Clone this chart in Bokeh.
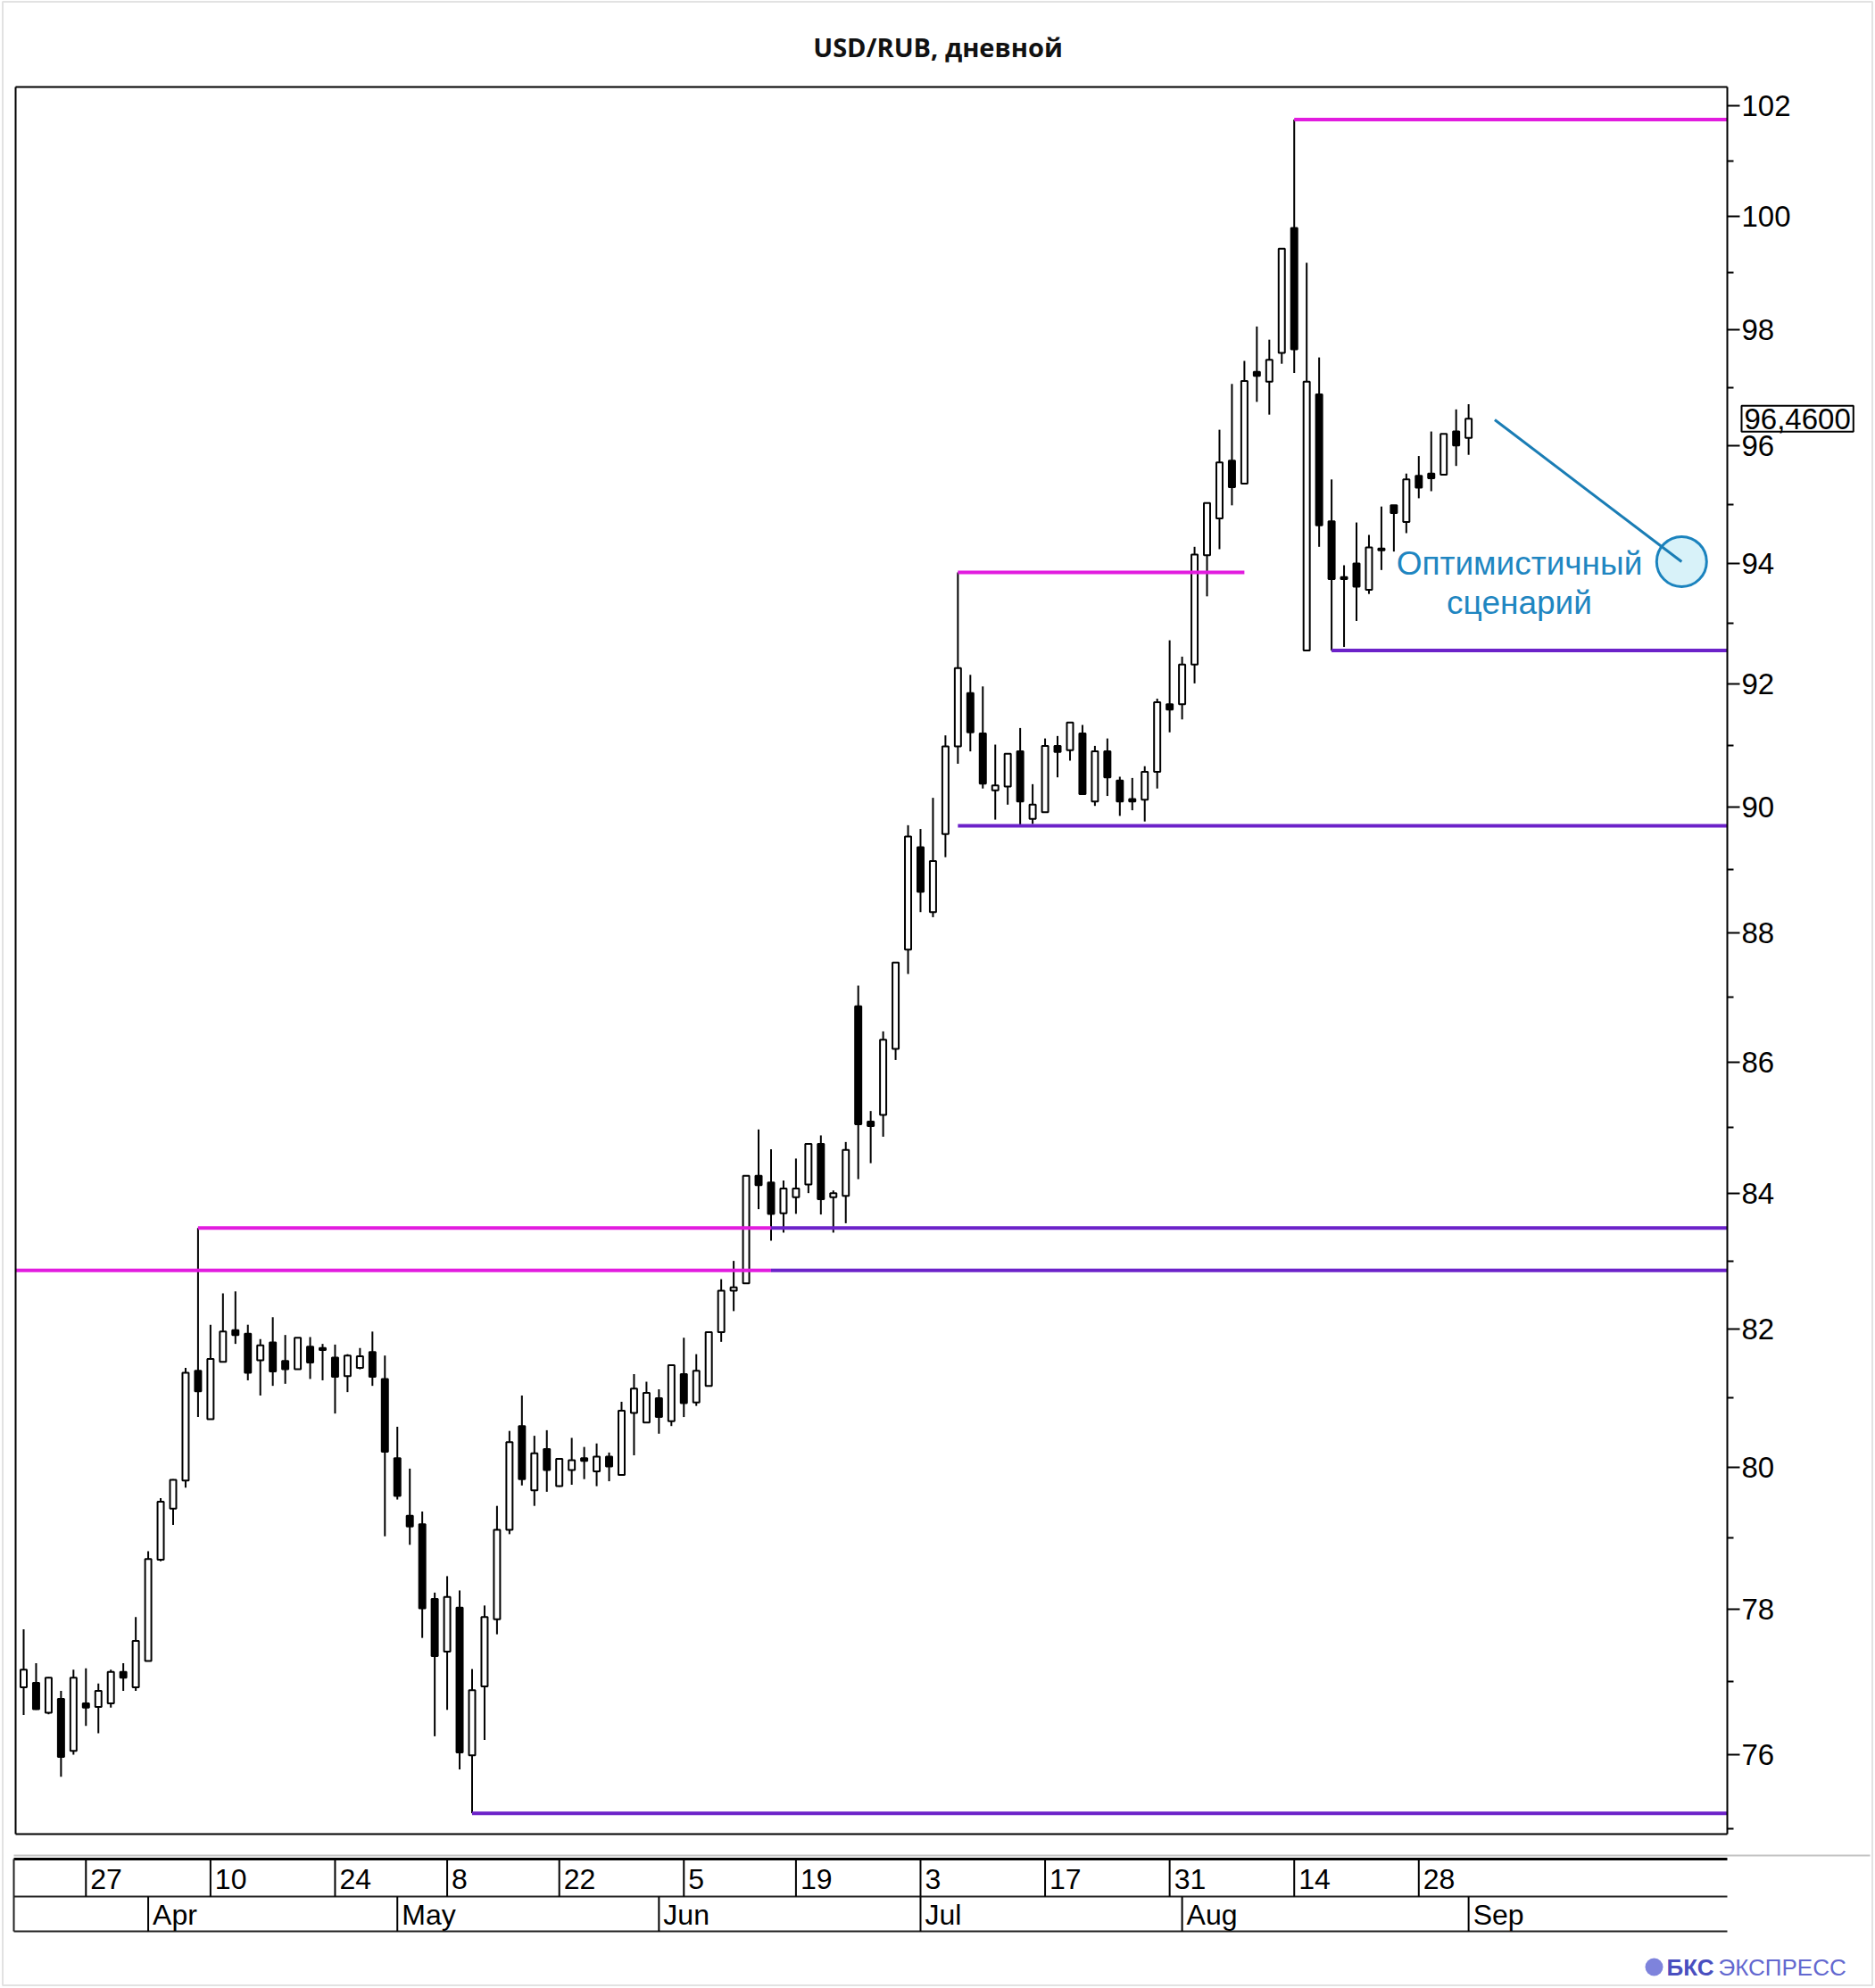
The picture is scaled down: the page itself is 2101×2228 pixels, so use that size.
import math
import pandas as pd
from bokeh.plotting import figure
from bokeh.models import (Range1d, ColumnDataSource, LinearAxis, FixedTicker,
                          BasicTickFormatter, Label)
from bokeh.core.properties import value
from bokeh.embed import file_html
from bokeh.resources import INLINE

# ---------------------------------------------------------------- data
TITLE = "USD/RUB, дневной"

HOLIDAYS = ["2023-05-01", "2023-05-09", "2023-06-12"]
trade_dates = [d.strftime("%Y-%m-%d") for d in pd.bdate_range("2023-03-20", "2023-09-01")
               if d.strftime("%Y-%m-%d") not in HOLIDAYS]

open_ = [
    76.92, 76.98, 76.57, 76.76, 76.05, 76.70, 76.65, 76.70, 77.13, 76.92,
    77.28, 78.69, 79.41, 79.81, 81.39, 80.69, 81.52, 81.98, 81.93, 81.54,
    81.80, 81.53, 81.41, 81.74, 81.72, 81.58, 81.31, 81.43, 81.66, 81.27,
    80.13, 79.31, 79.19, 78.14, 77.41, 78.02, 75.99, 76.93, 77.86, 79.11,
    80.59, 79.67, 80.26, 79.73, 79.96, 80.13, 79.94, 80.15, 79.89, 80.78,
    80.64, 80.99, 80.66, 81.34, 80.93, 81.17, 81.95, 82.56, 82.67, 84.27,
    84.17, 83.71, 83.95, 84.14, 84.75, 83.95, 83.97, 86.86, 85.09, 85.19,
    86.20, 87.74, 89.36, 88.33, 89.57, 90.98, 91.85, 91.19, 90.27, 90.33,
    90.90, 89.81, 89.92, 90.99, 90.92, 91.19, 90.09, 90.90, 90.43, 90.13,
    90.12, 90.57, 91.67, 91.67, 92.32, 94.14, 94.76, 95.74, 95.35, 97.27,
    97.10, 97.60, 99.80, 92.55, 96.88, 94.71, 93.77, 94.00, 93.56, 94.22,
    94.98, 94.70, 95.48, 95.52, 95.50, 96.24, 96.13]

high = [
    77.72, 77.25, 77.06, 76.87, 77.16, 77.18, 76.97, 77.16, 77.25, 77.89,
    78.81, 79.56, 79.83, 81.43, 83.49, 82.06, 82.52, 82.55, 82.06, 81.85,
    82.17, 81.91, 81.87, 81.88, 81.78, 81.77, 81.63, 81.72, 81.96, 81.61,
    80.58, 79.98, 79.37, 78.23, 78.46, 78.26, 77.17, 78.05, 79.45, 80.52,
    81.03, 80.45, 80.53, 80.13, 80.42, 80.29, 80.34, 80.21, 80.94, 81.34,
    81.23, 81.12, 81.47, 81.87, 81.63, 81.95, 82.73, 83.00, 84.27, 84.97,
    84.67, 84.20, 84.53, 84.75, 84.88, 84.05, 84.78, 87.18, 85.25, 86.47,
    87.54, 89.71, 89.65, 90.15, 91.16, 93.85, 92.15, 91.96, 91.01, 90.86,
    91.28, 90.37, 91.11, 91.15, 91.37, 91.33, 90.99, 91.11, 90.49, 90.47,
    90.66, 91.76, 92.72, 92.45, 94.28, 95.02, 96.27, 97.06, 97.46, 98.06,
    97.83, 99.43, 101.75, 99.18, 97.52, 95.42, 93.97, 94.69, 94.48, 94.96,
    94.98, 95.52, 95.82, 96.24, 96.20, 96.62, 96.71]

low = [
    76.54, 76.61, 76.55, 75.70, 76.00, 76.39, 76.29, 76.64, 76.87, 76.87,
    77.28, 78.67, 79.18, 79.71, 80.72, 80.69, 81.52, 81.78, 81.25, 81.03,
    81.17, 81.20, 81.41, 81.27, 81.25, 80.77, 81.08, 81.41, 81.17, 79.02,
    79.54, 78.90, 77.60, 76.25, 76.61, 75.80, 75.21, 76.20, 77.65, 79.05,
    79.74, 79.45, 79.65, 79.72, 79.75, 79.83, 79.73, 79.80, 79.89, 80.17,
    80.64, 80.48, 80.59, 80.72, 80.88, 81.17, 81.81, 82.26, 82.67, 83.77,
    83.30, 83.42, 83.70, 84.01, 83.69, 83.42, 83.56, 84.22, 84.46, 84.86,
    86.03, 87.36, 88.33, 88.25, 89.20, 90.70, 90.90, 90.30, 89.80, 90.04,
    89.70, 89.73, 89.92, 90.48, 90.75, 90.21, 90.02, 90.18, 89.86, 89.95,
    89.77, 90.30, 91.21, 91.42, 92.01, 93.45, 94.24, 94.98, 95.35, 96.75,
    96.53, 97.41, 97.25, 92.55, 94.28, 92.55, 92.61, 93.04, 93.49, 93.89,
    94.20, 94.51, 95.10, 95.22, 95.50, 95.65, 95.84]

close = [
    77.16, 76.62, 77.05, 75.97, 77.05, 76.64, 76.87, 77.13, 77.05, 77.56,
    78.70, 79.51, 79.82, 81.36, 81.09, 81.56, 81.96, 81.91, 81.36, 81.76,
    81.38, 81.41, 81.87, 81.51, 81.69, 81.30, 81.61, 81.60, 81.30, 80.22,
    79.59, 79.16, 78.01, 77.35, 78.17, 76.03, 76.88, 77.89, 79.11, 80.36,
    79.83, 80.20, 79.96, 80.12, 80.10, 80.09, 80.15, 80.01, 80.81, 81.13,
    81.07, 80.72, 81.47, 80.92, 81.39, 81.95, 82.56, 82.61, 84.27, 84.13,
    83.70, 84.08, 84.08, 84.75, 83.92, 84.01, 84.66, 85.05, 85.02, 86.34,
    87.54, 89.53, 88.65, 89.14, 90.98, 92.26, 91.21, 90.38, 90.35, 90.86,
    90.09, 90.04, 90.99, 90.89, 91.37, 90.21, 90.90, 90.48, 90.09, 90.09,
    90.57, 91.70, 91.58, 92.32, 94.15, 95.02, 95.71, 95.29, 97.11, 97.20,
    97.48, 99.43, 97.66, 97.10, 94.64, 93.74, 93.74, 93.61, 94.27, 94.25,
    94.85, 95.42, 95.28, 95.44, 96.20, 96.00, 96.46]

day_tick_dates = ["2023-03-27", "2023-04-10", "2023-04-24", "2023-05-08", "2023-05-22",
                  "2023-06-05", "2023-06-19", "2023-07-03", "2023-07-17", "2023-07-31",
                  "2023-08-14", "2023-08-28"]
day_tick_labels = ["27", "10", "24", "8", "22", "5", "19", "3", "17", "31", "14", "28"]
month_tick_dates = ["2023-04-03", "2023-05-02", "2023-06-01", "2023-07-03", "2023-08-01", "2023-09-01"]
month_tick_labels = ["Apr", "May", "Jun", "Jul", "Aug", "Sep"]

y_major_ticks = list(range(76, 103, 2))
y_minor_ticks = list(range(75, 102, 2))

# support / resistance levels (None = runs to the plot edge)
level_price = [101.75, 93.85, 83.49, 83.49, 82.86, 82.86, 89.70, 92.55, 75.21]
level_from = ["2023-08-14", "2023-07-06", "2023-04-07", "2023-06-15", None,
              "2023-06-15", "2023-07-06", "2023-08-17", "2023-05-11"]
level_to = [None, "2023-08-08", "2023-06-15", None, "2023-06-15", None, None, None, None]
level_kind = ["resistance", "resistance", "resistance", "support", "resistance",
              "support", "support", "support", "support"]

scenario_text = ["Оптимистичный", "сценарий"]
scenario_target = (133.1, 94.03)     # (trading-day position, price) of the circle
scenario_from = (118.1, 96.44)

logo_bold, logo_light = "БКС", "ЭКСПРЕСС"

# ---------------------------------------------------------------- layout helpers
W, H = 2100, 2226                 # canvas placed at the page's top-left corner
X0_PAGE, X_STEP = 26.0, 13.958    # candle 0 centre / px per trading day
K = (1966 - 118) / math.log(102 / 76)


def ix(px):
    return (px - X0_PAGE) / X_STEP


def vy(py):
    return 102 * math.exp(-(py - 118) / K)


XL, XR = ix(17), ix(1935)
YT, YB = vy(97), vy(2055)

MAGENTA = "#E21CDF"
PURPLE = "#6C22C9"
BLUE = "#1F86C1"
TXT = dict(text_font=value("Liberation Sans"))

p = figure(width=W, height=H, x_range=Range1d(ix(0), ix(W)),
           y_range=Range1d(vy(H), vy(0)), y_axis_type="log",
           x_axis_location=None, y_axis_location=None, toolbar_location=None,
           output_backend="svg", min_border=0,
           background_fill_color="white", border_fill_color="white",
           outline_line_color=None)
p.xgrid.visible = False
p.ygrid.visible = False

pos = {d: i for i, d in enumerate(trade_dates)}
xs = list(range(len(trade_dates)))

# ---------------------------------------------------------------- card border
p.quad(left=[ix(2.5)], right=[ix(2097.5)], top=[vy(1.5)], bottom=[vy(2224.5)],
       fill_color=None, line_color="#e2e2e2", line_width=2)

# ---------------------------------------------------------------- title
p.text(x=[ix(1050.5)], y=[vy(52)], text=[TITLE], text_align="center",
       text_baseline="middle", text_font=value("Open Sans"),
       text_font_style="bold", text_font_size="29px", text_color="#111111")

# ---------------------------------------------------------------- candles
src = ColumnDataSource(dict(
    x=xs, o=open_, h=high, l=low, c=close,
    top=[max(o, c) for o, c in zip(open_, close)],
    bot=[min(o, c) for o, c in zip(open_, close)],
    fill=["white" if c >= o else "black" for o, c in zip(open_, close)],
))
p.segment(x0="x", y0="l", x1="x", y1="h", source=src, line_color="black", line_width=2)
p.vbar(x="x", top="top", bottom="bot", width=0.5, source=src,
       fill_color="fill", line_color="black", line_width=2)

# ---------------------------------------------------------------- levels
lx0, lx1, ly, lc = [], [], [], []
for v, f, t, k in zip(level_price, level_from, level_to, level_kind):
    lx0.append(XL if f is None else pos[f])
    lx1.append(XR if t is None else pos[t])
    ly.append(v)
    lc.append(MAGENTA if k == "resistance" else PURPLE)
p.segment(x0=lx0, y0=ly, x1=lx1, y1=ly, line_color=lc, line_width=4, line_cap="butt")

# ---------------------------------------------------------------- frame border
p.segment(x0=[XL, XL, XL, XR], y0=[YB, YT, YB, YB], x1=[XL, XR, XR, XR], y1=[YT, YT, YB, YT],
          line_color="black", line_width=2)

# ---------------------------------------------------------------- price axis
yaxis = LinearAxis(ticker=FixedTicker(ticks=y_major_ticks, minor_ticks=y_minor_ticks),
                   formatter=BasicTickFormatter(), fixed_location=XR,
                   axis_line_color=None,
                   major_tick_in=0, major_tick_out=14, minor_tick_in=0, minor_tick_out=7,
                   major_tick_line_width=2, minor_tick_line_width=2,
                   major_tick_line_color="black", minor_tick_line_color="black",
                   major_label_standoff=2,
                   major_label_text_font="Liberation Sans",
                   major_label_text_font_size="33px",
                   major_label_text_color="black")
p.add_layout(yaxis, "right")

last_lbl = Label(x=XR, y=close[-1], x_offset=16, text=f"{close[-1]:.4f}".replace(".", ","),
                 text_align="left", text_baseline="middle",
                 text_font="Liberation Sans", text_font_size="33px", text_color="black",
                 border_line_color="black", border_line_width=2,
                 background_fill_color="white")
try:
    last_lbl.padding = 3
except Exception:
    pass
p.add_layout(last_lbl)

# ---------------------------------------------------------------- scenario annotation
p.scatter(x=[scenario_target[0]], y=[scenario_target[1]], size=56,
          fill_color="#d8f2f9", line_color="#1b83be", line_width=3)
p.line(x=[scenario_from[0], scenario_target[0]], y=[scenario_from[1], scenario_target[1]],
       line_color="#1a7db5", line_width=3)
p.text(x=[ix(1702)] * 2, y=[vy(631), vy(675)], text=scenario_text,
       text_align="center", text_baseline="middle",
       text_font_size="37px", text_color=BLUE, **TXT)

# ---------------------------------------------------------------- date scale
p.segment(x0=[ix(15)], y0=[vy(2079)], x1=[ix(2095)], y1=[vy(2079)],
          line_color="#c4c4c4", line_width=2)

BX = ix(15)
R_TOP, R_MID, R_BOT = vy(2083), vy(2125), vy(2164)
p.segment(x0=[BX], y0=[R_TOP], x1=[XR], y1=[R_TOP], line_color="black", line_width=3)
p.segment(x0=[BX, BX], y0=[R_MID, R_BOT], x1=[XR, XR], y1=[R_MID, R_BOT],
          line_color="#222222", line_width=2)
p.segment(x0=[BX], y0=[R_TOP], x1=[BX], y1=[R_BOT], line_color="#222222", line_width=2)

day_x = [pos[d] for d in day_tick_dates]
month_x = [pos[d] for d in month_tick_dates]
p.segment(x0=day_x, y0=[R_TOP] * len(day_x), x1=day_x, y1=[R_MID] * len(day_x),
          line_color="black", line_width=2)
p.segment(x0=month_x, y0=[R_MID] * len(month_x), x1=month_x, y1=[R_BOT] * len(month_x),
          line_color="black", line_width=2)
p.text(x=day_x, y=[vy(2105)] * len(day_x), text=day_tick_labels, x_offset=5,
       text_align="left", text_baseline="middle",
       text_font_size="32px", text_color="black", **TXT)
p.text(x=month_x, y=[vy(2145)] * len(month_x), text=month_tick_labels, x_offset=5,
       text_align="left", text_baseline="middle",
       text_font_size="32px", text_color="black", **TXT)

# ---------------------------------------------------------------- logo
p.scatter(x=[ix(1853)], y=[vy(2204)], size=20, fill_color="#7e83dc", line_color=None)
p.text(x=[ix(1867)], y=[vy(2204)], text=[logo_bold], text_align="left",
       text_baseline="middle", text_font_style="bold", text_font_size="26px",
       text_color="#4a4fbf", **TXT)
p.text(x=[ix(1925)], y=[vy(2204)], text=[logo_light], text_align="left",
       text_baseline="middle", text_font_size="26px", text_color="#6368cf", **TXT)

html = file_html(p, INLINE, title="USD/RUB")
with open("out.html", "w", encoding="utf-8") as fh:
    fh.write(html)
